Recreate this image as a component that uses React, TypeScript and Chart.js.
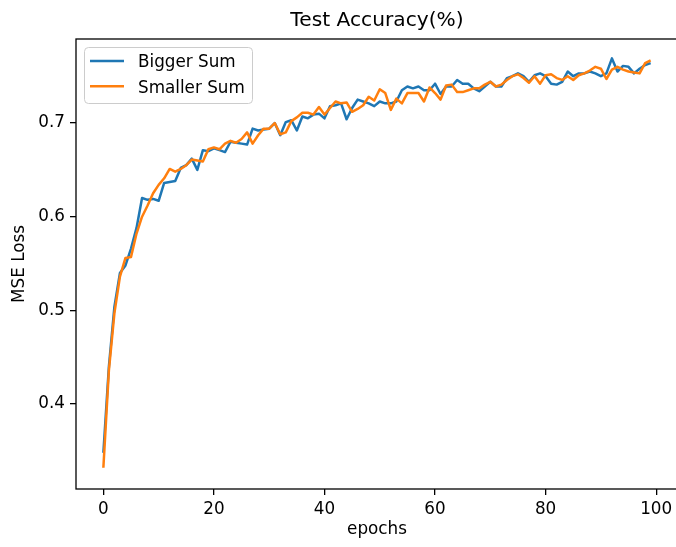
import React, { useEffect, useRef } from "react";
import { Chart, registerables } from "chart.js";

Chart.register(...registerables);

const TITLE = "Test Accuracy(%)";
const X_LABEL = "epochs";
const Y_LABEL = "MSE Loss";
const SERIES_NAMES = ["Bigger Sum", "Smaller Sum"];
const SERIES_COLORS = ["#1f77b4", "#ff7f0e"];
const X_TICKS = [0, 20, 40, 60, 80, 100];
const Y_TICKS = [0.4, 0.5, 0.6, 0.7];

const biggerSum = [
  0.348, 0.44, 0.504, 0.54, 0.548, 0.566, 0.588, 0.62, 0.618, 0.619,
  0.617, 0.636, 0.637, 0.638, 0.652, 0.655, 0.662, 0.65, 0.671, 0.67,
  0.673, 0.671, 0.669, 0.68, 0.679, 0.678, 0.677, 0.694, 0.692, 0.693,
  0.694, 0.7, 0.687, 0.701, 0.703, 0.692, 0.707, 0.705, 0.709, 0.71,
  0.705, 0.718, 0.719, 0.721, 0.704, 0.716, 0.725, 0.723, 0.721, 0.718,
  0.723, 0.721, 0.721, 0.723, 0.735, 0.739, 0.737, 0.739, 0.735, 0.735,
  0.742, 0.731, 0.739, 0.739, 0.746, 0.742, 0.742, 0.737, 0.734, 0.739,
  0.744, 0.739, 0.739, 0.748, 0.75, 0.753, 0.75, 0.744, 0.751, 0.753,
  0.75, 0.742, 0.741, 0.744, 0.755, 0.75, 0.753, 0.753, 0.755, 0.753,
  0.75, 0.753, 0.769, 0.755, 0.761, 0.76, 0.753, 0.758, 0.762, 0.764,
];

const smallerSum = [
  0.332, 0.436, 0.497, 0.536, 0.556, 0.557, 0.582, 0.6, 0.612, 0.625,
  0.634, 0.641, 0.651, 0.648, 0.651, 0.655, 0.661, 0.66, 0.659, 0.672,
  0.674, 0.672, 0.678, 0.681, 0.679, 0.683, 0.69, 0.678, 0.687, 0.694,
  0.694, 0.7, 0.688, 0.69, 0.702, 0.706, 0.711, 0.711, 0.709, 0.717,
  0.709, 0.716, 0.723, 0.721, 0.722, 0.712, 0.715, 0.719, 0.728, 0.724,
  0.736, 0.732, 0.714, 0.726, 0.721, 0.732, 0.732, 0.732, 0.723, 0.738,
  0.732, 0.725, 0.74, 0.741, 0.733, 0.733, 0.735, 0.737, 0.737, 0.741,
  0.744, 0.739, 0.741, 0.746, 0.75, 0.752, 0.748, 0.743, 0.75, 0.742,
  0.751, 0.752, 0.748, 0.746, 0.75, 0.746, 0.751, 0.753, 0.756, 0.76,
  0.758, 0.747, 0.757, 0.76, 0.757, 0.755, 0.754, 0.753, 0.764, 0.767,
];

const epochs = biggerSum.map((_, i) => i);

const W = 680;
const H = 547;
const FONT = "'DejaVu Sans', sans-serif";
const FS = 16.8;

const decorPlugin = {
  id: "decor",
  afterDatasetsDraw(chart: any) {
    const { ctx, chartArea: a } = chart;
    ctx.save();
    // spines
    ctx.strokeStyle = "#000";
    ctx.lineWidth = 1.3;
    ctx.strokeRect(a.left, a.top, a.right - a.left, a.bottom - a.top);

    // title
    ctx.fillStyle = "#000";
    ctx.font = `20.2px ${FONT}`;
    ctx.textAlign = "center";
    ctx.textBaseline = "alphabetic";
    ctx.fillText(TITLE, (a.left + a.right) / 2, 26);

    // legend
    const bx = 84.5, by = 47.5, bw = 168, bh = 56, r = 4;
    ctx.beginPath();
    ctx.moveTo(bx + r, by);
    ctx.lineTo(bx + bw - r, by);
    ctx.quadraticCurveTo(bx + bw, by, bx + bw, by + r);
    ctx.lineTo(bx + bw, by + bh - r);
    ctx.quadraticCurveTo(bx + bw, by + bh, bx + bw - r, by + bh);
    ctx.lineTo(bx + r, by + bh);
    ctx.quadraticCurveTo(bx, by + bh, bx, by + bh - r);
    ctx.lineTo(bx, by + r);
    ctx.quadraticCurveTo(bx, by, bx + r, by);
    ctx.closePath();
    ctx.fillStyle = "rgba(255,255,255,0.8)";
    ctx.fill();
    ctx.strokeStyle = "#cccccc";
    ctx.lineWidth = 1;
    ctx.stroke();

    ctx.font = `${FS}px ${FONT}`;
    ctx.textAlign = "left";
    SERIES_NAMES.forEach((name, i) => {
      const ly = 61 + i * 25.3;
      ctx.strokeStyle = SERIES_COLORS[i];
      ctx.lineWidth = 2.5;
      ctx.beginPath();
      ctx.moveTo(90, ly);
      ctx.lineTo(124, ly);
      ctx.stroke();
      ctx.fillStyle = "#000";
      ctx.fillText(name, 138, ly + 6.3);
    });
    ctx.restore();
  },
};

export default function App() {
  const ref = useRef<HTMLCanvasElement>(null);

  useEffect(() => {
    if (!ref.current) return;
    const chart = new Chart(ref.current, {
      type: "line",
      data: {
        labels: epochs,
        datasets: [
          {
            label: SERIES_NAMES[0],
            data: epochs.map((e, i) => ({ x: e, y: biggerSum[i] })),
            borderColor: SERIES_COLORS[0],
            backgroundColor: SERIES_COLORS[0],
            borderWidth: 2.5,
            pointRadius: 0,
            tension: 0,
            borderJoinStyle: "round",
            order: 1,
          },
          {
            label: SERIES_NAMES[1],
            data: epochs.map((e, i) => ({ x: e, y: smallerSum[i] })),
            borderColor: SERIES_COLORS[1],
            backgroundColor: SERIES_COLORS[1],
            borderWidth: 2.5,
            pointRadius: 0,
            tension: 0,
            borderJoinStyle: "round",
            order: 0,
          },
        ],
      },
      options: {
        responsive: false,
        animation: false,
        devicePixelRatio: 1,
        layout: { padding: { top: 39, right: 2, left: 0, bottom: 0 } },
        plugins: {
          legend: { display: false },
          title: { display: false },
          tooltip: { enabled: false },
        },
        scales: {
          x: {
            type: "linear",
            min: -4.95,
            max: 103.95,
            afterFit: (s: any) => {
              s.height = 58;
            },
            afterBuildTicks: (s: any) => {
              s.ticks = X_TICKS.map((v) => ({ value: v }));
            },
            border: { display: false },
            grid: {
              display: true,
              drawOnChartArea: false,
              drawTicks: true,
              tickLength: 6,
              tickColor: "#000",
              lineWidth: 1.3,
            },
            ticks: {
              autoSkip: false,
              maxRotation: 0,
              padding: 5,
              color: "#000",
              font: { family: FONT, size: FS },
              callback: (v: any) => String(v),
            },
            title: {
              display: true,
              text: X_LABEL,
              color: "#000",
              font: { family: FONT, size: FS },
              padding: { top: 0, bottom: 7 },
            },
          },
          y: {
            type: "linear",
            min: 0.3093,
            max: 0.7897,
            afterFit: (s: any) => {
              s.width = 76;
            },
            afterBuildTicks: (s: any) => {
              s.ticks = Y_TICKS.map((v) => ({ value: v }));
            },
            border: { display: false },
            grid: {
              display: true,
              drawOnChartArea: false,
              drawTicks: true,
              tickLength: 6,
              tickColor: "#000",
              lineWidth: 1.3,
            },
            ticks: {
              autoSkip: false,
              padding: 5,
              color: "#000",
              font: { family: FONT, size: FS },
              callback: (v: any) => Number(v).toFixed(1),
            },
            title: {
              display: true,
              text: Y_LABEL,
              color: "#000",
              font: { family: FONT, size: FS },
              padding: { top: 10, bottom: 0 },
            },
          },
        },
      },
      plugins: [decorPlugin],
    });
    return () => chart.destroy();
  }, []);

  return (
    <div
      style={{
        position: "fixed",
        left: 0,
        top: 0,
        width: 676,
        height: 547,
        overflow: "hidden",
        background: "#fff",
      }}
    >
      <canvas ref={ref} width={W} height={H} style={{ display: "block", width: W, height: H }} />
    </div>
  );
}
